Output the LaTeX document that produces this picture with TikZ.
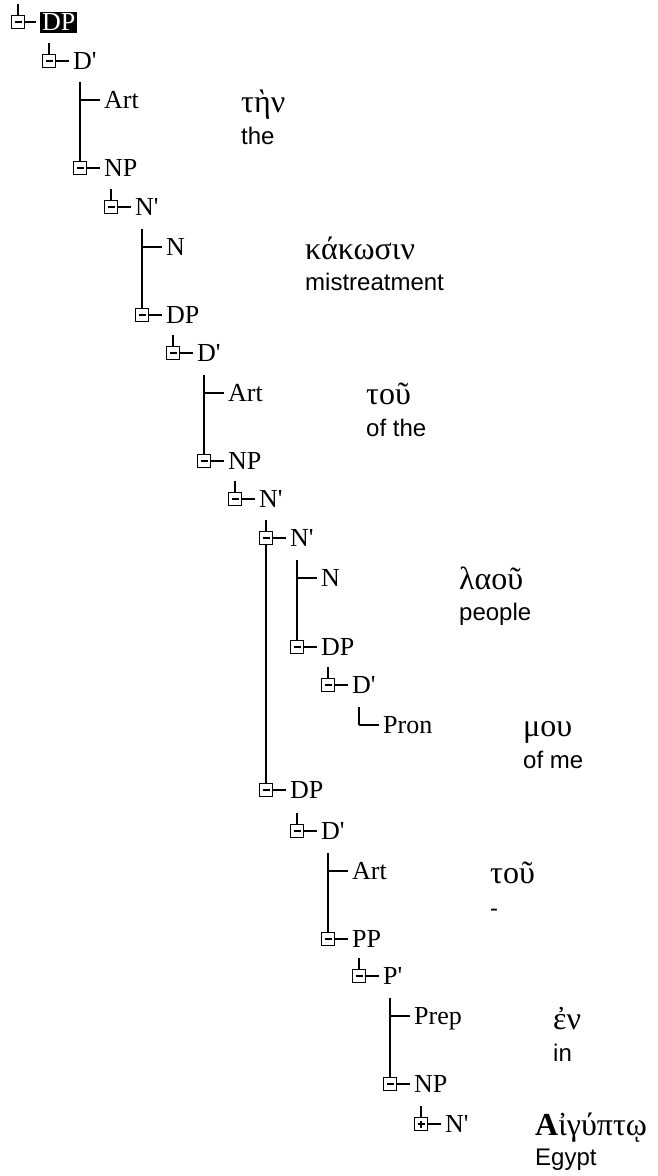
\documentclass[tikz,border=0pt]{standalone}
\usepackage{fontspec}
\setmainfont{Liberation Serif}
\newfontfamily\glossfont{Liberation Sans}
\newfontfamily\greekfont{Liberation Serif}
\usetikzlibrary{positioning}
\newcommand{\primebar}{\textquotesingle}

\tikzset{
  tline/.style={line width=1.2pt},
  minusbox/.style={draw, fill=white, line width=1.2pt, minimum size=13pt, inner sep=0pt,
    path picture={\draw[line width=1.2pt] ([xshift=3pt]path picture bounding box.west) -- ([xshift=-3pt]path picture bounding box.east);}},
  plusbox/.style={draw, fill=white, line width=1.2pt, minimum size=13pt, inner sep=0pt,
    path picture={\draw[line width=1.2pt] ([xshift=3pt]path picture bounding box.west) -- ([xshift=-3pt]path picture bounding box.east)
      ([yshift=-3pt]path picture bounding box.north) -- ([yshift=3pt]path picture bounding box.south);}},
  lab/.style={anchor=west, inner sep=0pt, text height=17pt, text depth=0pt, font=\fontsize{26}{30}\selectfont},
  greek/.style={anchor=base west, inner sep=0pt, font=\greekfont\fontsize{32}{36}\selectfont},
  gloss/.style={anchor=base west, inner sep=0pt, font=\glossfont\fontsize{24}{28}\selectfont}
}

\begin{document}
\begin{tikzpicture}[x=1pt, y=-1pt]
  \useasboundingbox (0,0) rectangle (657,1176);

  % top-down column of the tree
  \coordinate (s0) at (18,4);
  \coordinate (s1) at (49,43);
  \coordinate (s2) at (80,82);
  \coordinate (s4) at (111,189);
  \coordinate (s5) at (142,229);
  \coordinate (s7) at (173,335);
  \coordinate (s8) at (204,375);
  \coordinate (s10) at (235,481);
  \coordinate (s11) at (266,520);
  \coordinate (s12) at (297,560);
  \coordinate (s14) at (328,667);
  \coordinate (s15) at (359,707);
  \coordinate (s17) at (297,813);
  \coordinate (s18) at (328,853);
  \coordinate (s20) at (359,958);
  \coordinate (s21) at (390,998);
  \coordinate (s23) at (421,1106);

  \coordinate (t2) at (80,100);
  \coordinate (t5) at (142,247);
  \coordinate (t8) at (204,393);
  \coordinate (t12) at (297,578);
  \coordinate (t15) at (359,725);
  \coordinate (t18) at (328,871);
  \coordinate (t21) at (390,1016);

  % vertical lines
  \draw[tline] (s0) -- (18,16);
  \draw[tline] (s1) -- (49,55);
  \draw[tline] (s2) -- (80,162);
  \draw[tline] (s4) -- (111,201);
  \draw[tline] (s5) -- (142,309);
  \draw[tline] (s7) -- (173,347);
  \draw[tline] (s8) -- (204,455);
  \draw[tline] (s10) -- (235,493);
  \draw[tline] (s11) -- (266,784);
  \draw[tline] (s12) -- (297,641);
  \draw[tline] (s14) -- (328,679);
  \draw[tline] (s15) -- (t15);
  \draw[tline] (s17) -- (297,825);
  \draw[tline] (s18) -- (328,933);
  \draw[tline] (s20) -- (359,970);
  \draw[tline] (s21) -- (390,1078);
  \draw[tline] (s23) -- (421,1118);

  % boxes and labels
  \node[minusbox] (b0) at (18,22) {};
  \node[lab, fill=black, text=white, inner xsep=2pt, inner ysep=2pt] (l0) at (40,22) {DP};
  \node[minusbox] (b1) at (49,61) {};   \node[lab] (l1) at (73,61) {D\primebar};
  \node[lab] (l2) at (104,100) {Art};
  \node[minusbox] (b3) at (80,168) {};  \node[lab] (l3) at (104,168) {NP};
  \node[minusbox] (b4) at (111,207) {}; \node[lab] (l4) at (135,207) {N\primebar};
  \node[lab] (l5) at (166,247) {N};
  \node[minusbox] (b6) at (142,315) {}; \node[lab] (l6) at (166,315) {DP};
  \node[minusbox] (b7) at (173,353) {}; \node[lab] (l7) at (197,353) {D\primebar};
  \node[lab] (l8) at (228,393) {Art};
  \node[minusbox] (b9) at (204,461) {}; \node[lab] (l9) at (228,461) {NP};
  \node[minusbox] (b10) at (235,499) {}; \node[lab] (l10) at (259,499) {N\primebar};
  \node[minusbox] (b11) at (266,538) {}; \node[lab] (l11) at (290,538) {N\primebar};
  \node[lab] (l12) at (321,578) {N};
  \node[minusbox] (b13) at (297,647) {}; \node[lab] (l13) at (321,647) {DP};
  \node[minusbox] (b14) at (328,685) {}; \node[lab] (l14) at (352,685) {D\primebar};
  \node[lab] (l15) at (383,725) {Pron};
  \node[minusbox] (b16) at (266,790) {}; \node[lab] (l16) at (290,790) {DP};
  \node[minusbox] (b17) at (297,831) {}; \node[lab] (l17) at (321,831) {D\primebar};
  \node[lab] (l18) at (352,871) {Art};
  \node[minusbox] (b19) at (328,939) {}; \node[lab] (l19) at (352,939) {PP};
  \node[minusbox] (b20) at (359,976) {}; \node[lab] (l20) at (383,976) {P\primebar};
  \node[lab] (l21) at (414,1016) {Prep};
  \node[minusbox] (b22) at (390,1084) {}; \node[lab] (l22) at (414,1084) {NP};
  \node[plusbox] (b23) at (421,1124) {}; \node[lab] (l23) at (445,1124) {N\primebar};

  % dashes to the labels
  \foreach \i in {0,1,3,4,6,7,9,10,11,13,14,16,17,19,20,22,23}
    \draw[tline, shorten >=4pt] (b\i.east) -- (l\i.west);
  \foreach \i in {2,5,8,12,15,18,21}
    \draw[tline, shorten >=4pt] (t\i) -- (l\i.west);

  % glosses
  \node[greek] (g1) at (241,112) {τὴν};
  \node[gloss] (e1) at (241,144) {the};
  \node[greek] (g2) at (305,259) {κάκωσιν};
  \node[gloss] (e2) at (305,290) {mistreatment};
  \node[greek] (g3) at (366,404) {τοῦ};
  \node[gloss] (e3) at (366,436) {of the};
  \node[greek] (g4) at (459,589) {λαοῦ};
  \node[gloss] (e4) at (459,620) {people};
  \node[greek] (g5) at (523,736) {μου};
  \node[gloss] (e5) at (523,768) {of me};
  \node[greek] (g6) at (490,883) {τοῦ};
  \node[gloss] (e6) at (490,916) {-};
  \node[greek] (g7) at (553,1029) {ἐν};
  \node[gloss] (e7) at (553,1061) {in};
  \node[greek] (g8) at (535,1135) {{\bfseries Α}ἰγύπτῳ};
  \node[gloss] (e8) at (535,1165) {Egypt};
\end{tikzpicture}
\end{document}
